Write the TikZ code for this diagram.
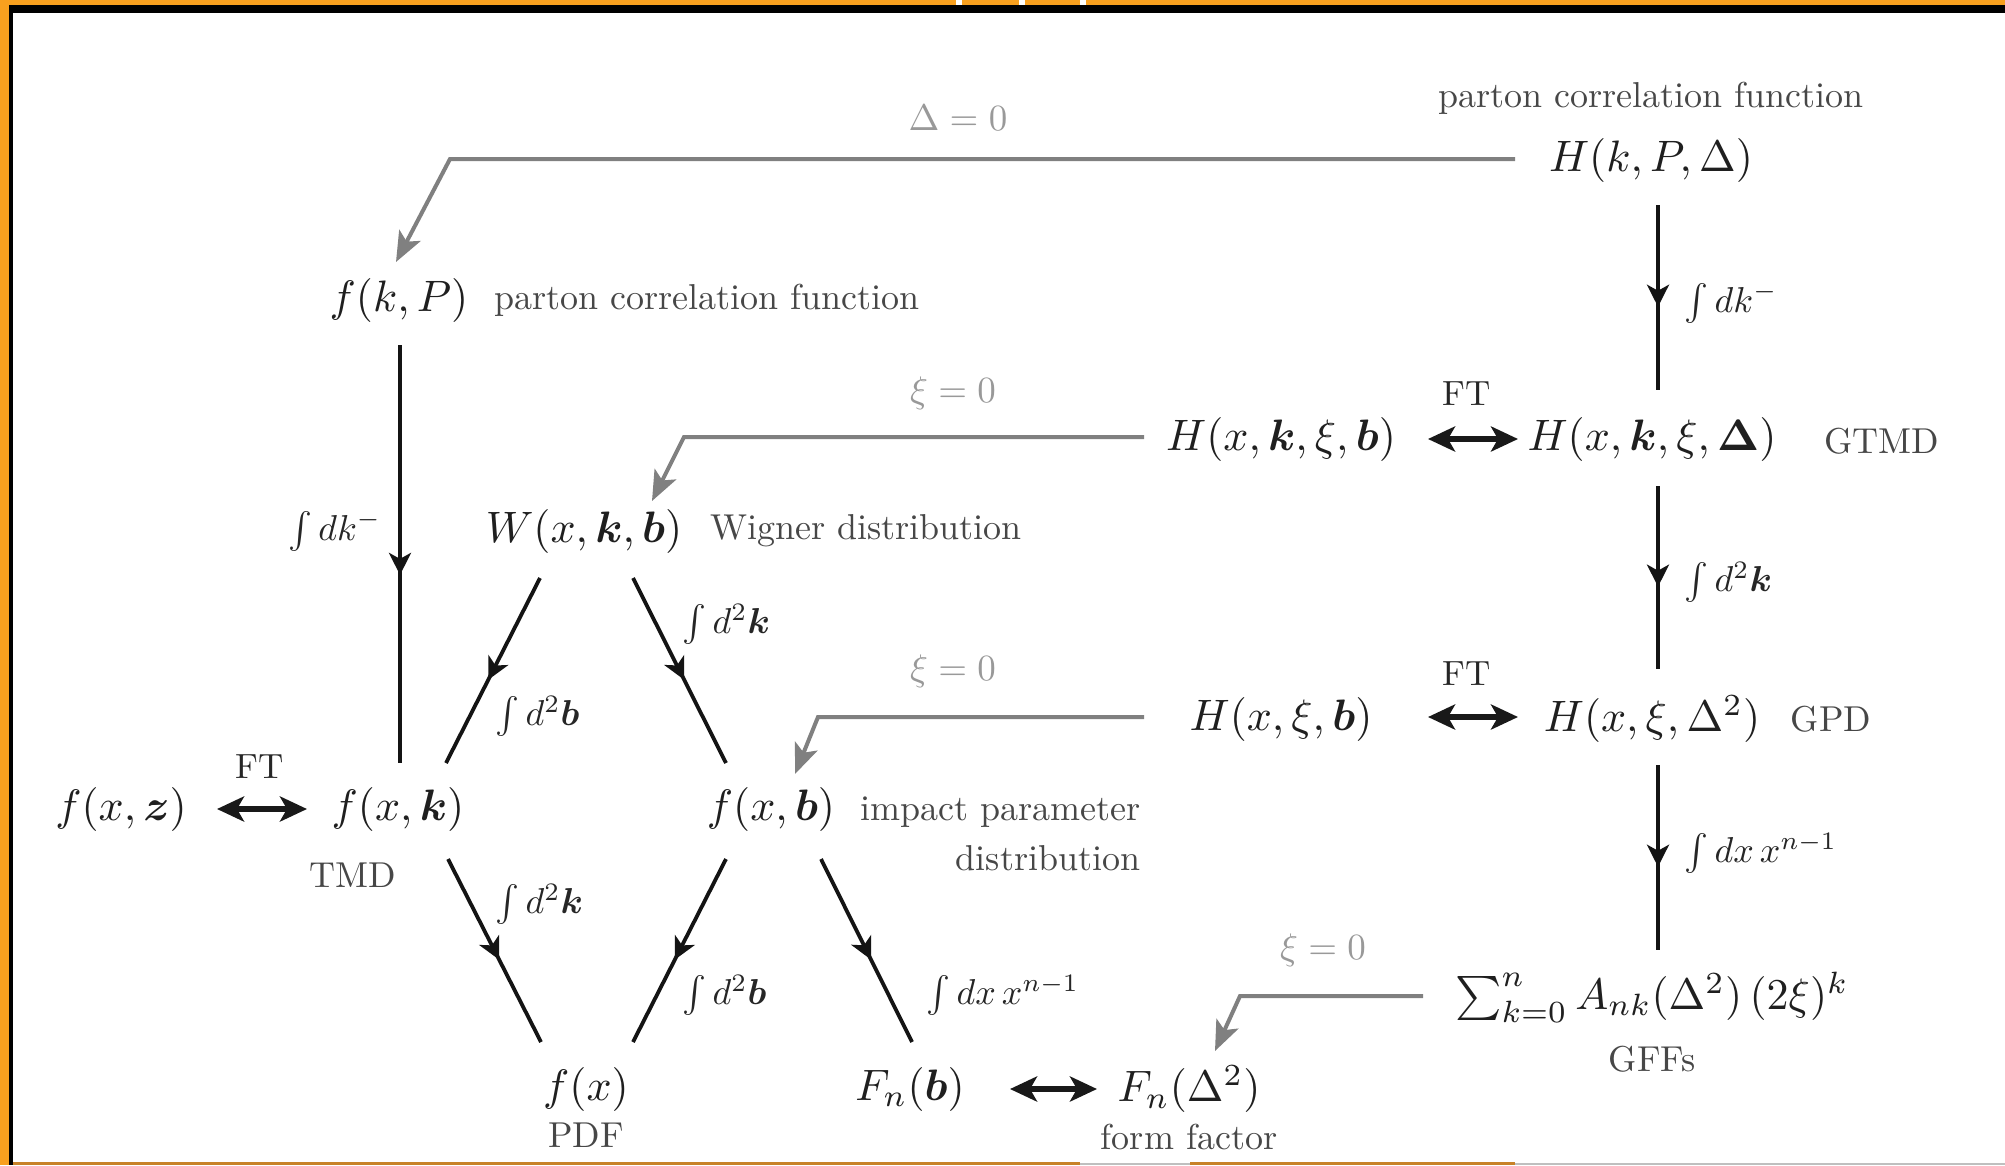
\documentclass[tikz,border=0pt]{standalone}
\usepackage{amsmath,bm}
\usetikzlibrary{arrows.meta,decorations.markings,calc}
\definecolor{frameor}{RGB}{248,160,30}
\definecolor{framebr}{RGB}{200,130,40}
\tikzset{
 mnode/.style={inner sep=0pt, text=black!88, scale=4.4},
 tlbl/.style={inner sep=0pt, text=black!72, scale=3.6},
 glbl/.style={inner sep=0pt, text=black!40, scale=3.7},
 ftlbl/.style={inner sep=0pt, text=black!85, scale=3.5},
 ilbl/.style={inner sep=0pt, text=black!85, scale=3.6, anchor=west},
 flow/.style={line width=3.8pt, color=black!92, postaction={decorate},
   decoration={markings, mark=at position 0.55 with {\arrow{Stealth[length=22pt,width=22pt,inset=6pt]}}}},
 gflow/.style={line width=4pt, color=black!50, -{Stealth[length=30pt,width=24pt,inset=7pt]}, line join=miter},
 ftar/.style={line width=6pt, color=black!90, {Stealth[length=27pt,width=25pt,inset=7pt]}-{Stealth[length=27pt,width=25pt,inset=7pt]}},
}
\begin{document}
\begin{tikzpicture}[x=1pt,y=-1pt]
\useasboundingbox (0,0) rectangle (2005,1165);
\fill[white] (0,0) rectangle (2005,1165);
% frame
\fill[frameor] (0,0) rectangle (2005,5);
\fill[frameor] (0,0) rectangle (9,1165);
\fill[black] (9,5) rectangle (2005,13);
\fill[black] (9,5) rectangle (13,1165);
\fill[white] (956,0) rectangle (962,5);
\fill[white] (1019,0) rectangle (1025,5);
\fill[white] (1080,0) rectangle (1086,5);
\fill[framebr] (13,1162) rectangle (1080,1165);
\fill[black!25] (1080,1163) rectangle (1190,1165);
\fill[framebr] (1190,1162) rectangle (1515,1165);
\fill[black!25] (1515,1163) rectangle (2005,1165);

% math nodes
\node[mnode] (HkP) at (1651,160) {$H(k,P,\Delta)$};
\node[tlbl] (pcf1) at (1651,98) {parton correlation function};
\node[mnode] (fkP) at (399,300) {$f(k,P)$};
\node[tlbl] (pcf2) at (707,300) {parton correlation function};
\node[mnode] (Hkb) at (1281,439) {$H(x,\bm{k},\xi,\bm{b})$};
\node[mnode] (HkD) at (1652,439) {$H(x,\bm{k},\xi,\bm{\Delta})$};
\node[tlbl] (gtmd) at (1882,441) {GTMD};
\node[mnode] (W) at (584,531) {$W(x,\bm{k},\bm{b})$};
\node[tlbl] (wig) at (866,531) {Wigner distribution};
\node[mnode] (Hb) at (1281,719) {$H(x,\xi,\bm{b})$};
\node[mnode] (HD) at (1652,719) {$H(x,\xi,\Delta^2)$};
\node[tlbl] (gpd) at (1831,719) {GPD};
\node[mnode] (fxz) at (121,809) {$f(x,\bm{z})$};
\node[mnode] (fxk) at (398,809) {$f(x,\bm{k})$};
\node[tlbl] (tmd) at (353,875) {TMD};
\node[mnode] (fxb) at (771,809) {$f(x,\bm{b})$};
\node[tlbl, align=right, anchor=east, font={\fontsize{10}{13.9}\selectfont}] (ipd) at (1141,834) {impact parameter\\distribution};
\node[mnode] (gff) at (1652,997) {$\sum_{k=0}^{n} A_{nk}(\Delta^2)\,(2\xi)^k$};
\node[tlbl] (gffl) at (1652,1059) {GFFs};
\node[mnode] (fx) at (586,1089) {$f(x)$};
\node[tlbl] (pdf) at (586,1135) {PDF};
\node[mnode] (Fnb) at (910,1089) {$F_n(\bm{b})$};
\node[mnode] (FnD) at (1189,1089) {$F_n(\Delta^2)$};
\node[tlbl] (ff) at (1189,1137) {form factor};

% labels
\node[glbl] (l1) at (958,118) {$\Delta=0$};
\node[glbl] (l2) at (953,393) {$\xi=0$};
\node[glbl] (l3) at (953,671) {$\xi=0$};
\node[glbl] (l4) at (1323,950) {$\xi=0$};
\node[ftlbl] (ft1) at (1467,394) {FT};
\node[ftlbl] (ft2) at (1467,674) {FT};
\node[ftlbl] (ft3) at (260,767) {FT};
\node[ilbl] (i1) at (1684,303) {$\int dk^-$};
\node[ilbl, anchor=east] (i2) at (382,531) {$\int dk^-$};
\node[ilbl] (i3) at (1684,582) {$\int d^2\bm{k}$};
\node[ilbl] (i4) at (1684,853) {$\int dx\, x^{n-1}$};
\node[ilbl] (i5) at (682,624) {$\int d^2\bm{k}$};
\node[ilbl] (i6) at (495,716) {$\int d^2\bm{b}$};
\node[ilbl] (i7) at (495,904) {$\int d^2\bm{k}$};
\node[ilbl] (i8) at (682,995) {$\int d^2\bm{b}$};
\node[ilbl] (i9) at (926,995) {$\int dx\, x^{n-1}$};

% black flows
\draw[flow] ($(HkP.center)+(7,45)$) -- ($(HkD.center)+(6,-49)$);
\draw[flow] ($(HkD.center)+(6,47)$) -- ($(HD.center)+(6,-50)$);
\draw[flow] ($(HD.center)+(6,46)$) -- ($(gff.center)+(6,-47)$);
\draw[flow] ($(fkP.center)+(1,45)$) -- ($(fxk.center)+(2,-46)$);
\draw[flow] ($(W.center)+(-44,47)$) -- ($(fxk.center)+(48,-46)$);
\draw[flow] ($(W.center)+(49,47)$) -- ($(fxb.center)+(-45,-46)$);
\draw[flow] ($(fxk.center)+(50,50)$) -- ($(fx.center)+(-45,-47)$);
\draw[flow] ($(fxb.center)+(-45,50)$) -- ($(fx.center)+(47,-47)$);
\draw[flow] ($(fxb.center)+(50,50)$) -- ($(Fnb.center)+(2,-47)$);

% FT arrows
\draw[ftar] ($(Hkb.center)+(147,0)$) -- ($(HkD.center)+(-134,0)$);
\draw[ftar] ($(Hb.center)+(147,-2)$) -- ($(HD.center)+(-134,-2)$);
\draw[ftar] ($(fxz.center)+(96,0)$) -- ($(fxk.center)+(-91,0)$);
\draw[ftar] ($(Fnb.center)+(100,0)$) -- ($(FnD.center)+(-92,0)$);

% gray reductions
\coordinate (g1) at (450,159);
\draw[gflow] ($(HkP.center)+(-136,-1)$) -- (g1) -- ($(fkP.center)+(-3,-38)$);
\coordinate (g2) at (684,437);
\draw[gflow] ($(Hkb.center)+(-137,-2)$) -- (g2) -- ($(W.center)+(68,-30)$);
\coordinate (g3) at (818,717);
\draw[gflow] ($(Hb.center)+(-137,-2)$) -- (g3) -- ($(fxb.center)+(24,-35)$);
\coordinate (g4) at (1240,996);
\draw[gflow] ($(gff.center)+(-229,-1)$) -- (g4) -- ($(FnD.center)+(26,-38)$);
\end{tikzpicture}
\end{document}
